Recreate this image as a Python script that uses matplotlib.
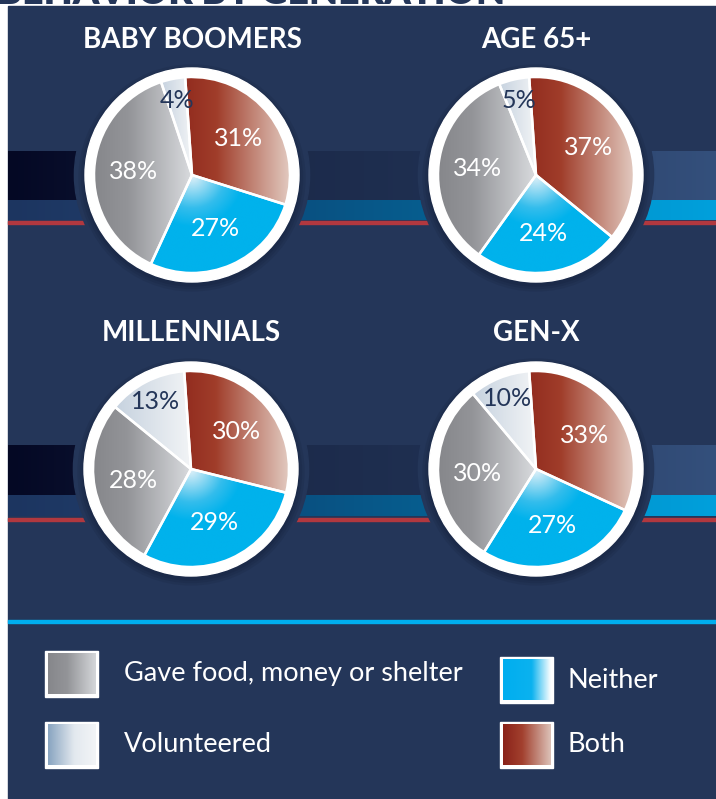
import numpy as np
import matplotlib.pyplot as plt
from matplotlib.patches import Rectangle, Circle
from matplotlib.colors import LinearSegmentedColormap

W, H = 716, 799

# data (percent of each generation)
generations = ["BABY BOOMERS", "AGE 65+", "MILLENNIALS", "GEN-X"]
categories = ["Both", "Neither", "Gave food, money or shelter", "Volunteered"]
baby_boomers = [31, 27, 38, 4]
age_65 = [37, 24, 34, 5]
millennials = [30, 29, 28, 13]
gen_x = [33, 27, 30, 10]
shares = [baby_boomers, age_65, millennials, gen_x]
legend_left = ["Gave food, money or shelter", "Volunteered"]
legend_right = ["Neither", "Both"]

NAVY = "#243659"
FONT = "Lato"

# gradient stops for pie slices and legend boxes
pie_grad = {
    "Both": [(0, "#922c1f"), (0.3, "#a03d2a"), (1, "#e2cac0")],
    "Neither": [(0, "#e4f2f9"), (0.45, "#33bdec"), (0.7, "#00b2ec"), (1, "#00b2ec")],
    "Gave food, money or shelter": [(0, "#86878b"), (0.35, "#939498"), (1, "#d9dbde")],
    "Volunteered": [(0, "#c6d2df"), (1, "#f2f4f6")],
}
legend_grad = {
    "Both": [(0, "#8a2219"), (0.4, "#a2402e"), (1, "#dcc2b8")],
    "Neither": [(0, "#00aeef"), (0.6, "#0bb2ef"), (1, "#ffffff")],
    "Gave food, money or shelter": [(0, "#86878b"), (0.4, "#939498"), (1, "#d5d7da")],
    "Volunteered": [(0, "#88a4c0"), (0.55, "#e3e9ef"), (1, "#f3f5f7")],
}


def cmap_of(stops):
    return LinearSegmentedColormap.from_list("g", stops)


def hgrad(ax, x0, x1, y0, y1, stops, z=2, clip=None):
    arr = np.linspace(0, 1, 256)[None, :]
    im = ax.imshow(arr, cmap=cmap_of(stops), extent=(x0, x1, y1, y0),
                   aspect="auto", interpolation="bicubic", zorder=z)
    if clip is not None:
        im.set_clip_path(clip)
    return im


fig = plt.figure(figsize=(W / 100, H / 100), dpi=100)
fig.patch.set_facecolor("white")

bg = fig.add_axes([0, 0, 1, 1])
bg.axis("off")

# heading, cut off at the top edge as in the original
bg.text(-3, 4.5, "BEHAVIOR BY GENERATION", color=NAVY, fontsize=27,
        fontweight="heavy", family=FONT, va="baseline", ha="left", zorder=0.5)
bg.add_patch(Rectangle((8, 5.5), W - 8, H - 5.5, color=NAVY, zorder=1))

# pie centres in pixels
centers = [(192, 175), (536, 175), (191, 469), (536, 469)]

# horizontal bands behind each pie row: top of dark band, split, bottom, red line
rows = [(151, 200, 220, 221), (445, 495, 516, 518)]
seg_colors = [
    ([(0, "#040824"), (1, "#101837")], [(0, "#1c3560"), (1, "#223f6d")]),
    ([(0, "#1a2747"), (1, "#213355")], [(0, "#0c4575"), (1, "#03699b")]),
    ([(0, "#2b416a"), (1, "#34507c")], [(0, "#0090c8"), (1, "#00a0dc")]),
]
for r, (t, s, b, red) in enumerate(rows):
    xs = [8, centers[2 * r][0], centers[2 * r + 1][0], W]
    for k in range(3):
        top_c, low_c = seg_colors[k]
        hgrad(bg, xs[k], xs[k + 1], t, s, top_c)
        hgrad(bg, xs[k], xs[k + 1], s, b, low_c)
    bg.add_patch(Rectangle((8, red), W - 8, 3, color="#b1383f", zorder=3))

# cyan divider above the legend
bg.add_patch(Rectangle((8, 620), W - 8, 3, color="#00aeef", zorder=3))

# legend
for items, bx, tx, ys in [(legend_left, 45, 124, [651, 722]),
                          (legend_right, 500, 567, [657, 722])]:
    for name, y in zip(items, ys):
        bg.add_patch(Rectangle((bx, y), 53, 46, color="white", zorder=3))
        hgrad(bg, bx + 2.5, bx + 53 - 2.5, y + 2.5, y + 46 - 2.5,
              legend_grad[name], z=4)
        bg.text(tx, y + 23, name, color="white", fontsize=19.5, family=FONT,
                va="center", ha="left", zorder=5)

bg.set_xlim(0, W)
bg.set_ylim(H, 0)

R_PX = 98.0   # inner pie radius in pixels
half = 1.25 * R_PX
for gen, vals, (cx, cy) in zip(generations, shares, centers):
    ax = fig.add_axes([(cx - half) / W, (H - cy - half) / H,
                       2 * half / W, 2 * half / H])
    wedges, _ = ax.pie(vals, startangle=94, counterclock=False, radius=1,
                       wedgeprops=dict(edgecolor="white", linewidth=1.8))
    ax.add_patch(Circle((0, 0), 1.2, color=NAVY, zorder=0))
    for k, a in enumerate([0.10, 0.10, 0.12]):
        ax.add_patch(Circle((0, -0.03), 1.16 - 0.025 * k, color="#0a1026",
                            alpha=a, lw=0, zorder=0.2))
    ax.add_patch(Circle((0, 0), 1.092, color="white", zorder=1))
    for w, name, v in zip(wedges, categories, vals):
        w.set_facecolor("none")
        w.set_zorder(3)
        ext = w.get_path().get_extents()
        if name == "Neither":
            xx, yy = np.meshgrid(np.linspace(ext.x0, ext.x1, 200),
                                 np.linspace(ext.y1, ext.y0, 200))
            rr = np.clip(np.hypot(xx, yy) / 0.75, 0, 1)
            im = ax.imshow(rr, cmap=cmap_of(pie_grad[name]),
                           extent=(ext.x0, ext.x1, ext.y0, ext.y1),
                           aspect="auto", zorder=2, vmin=0, vmax=1)
            im.set_clip_path(w)
        else:
            hgrad(ax, ext.x0, ext.x1, ext.y0, ext.y1, pie_grad[name], clip=w)
        mid = np.deg2rad((w.theta1 + w.theta2) / 2)
        rl = 0.78 if name == "Volunteered" else 0.6
        ax.text(rl * np.cos(mid), rl * np.sin(mid), f"{v}%",
                color=NAVY if name == "Volunteered" else "white",
                fontsize=18, family=FONT, ha="center", va="center", zorder=5)
    ax.set_xlim(-1.25, 1.25)
    ax.set_ylim(-1.25, 1.25)
    ax.axis("off")
    bg.text(cx, 40 if cy < 300 else 333, gen, color="white", fontsize=20,
            fontweight="bold", family=FONT, ha="center", va="center", zorder=6)

fig.savefig("out.png", dpi=100)
